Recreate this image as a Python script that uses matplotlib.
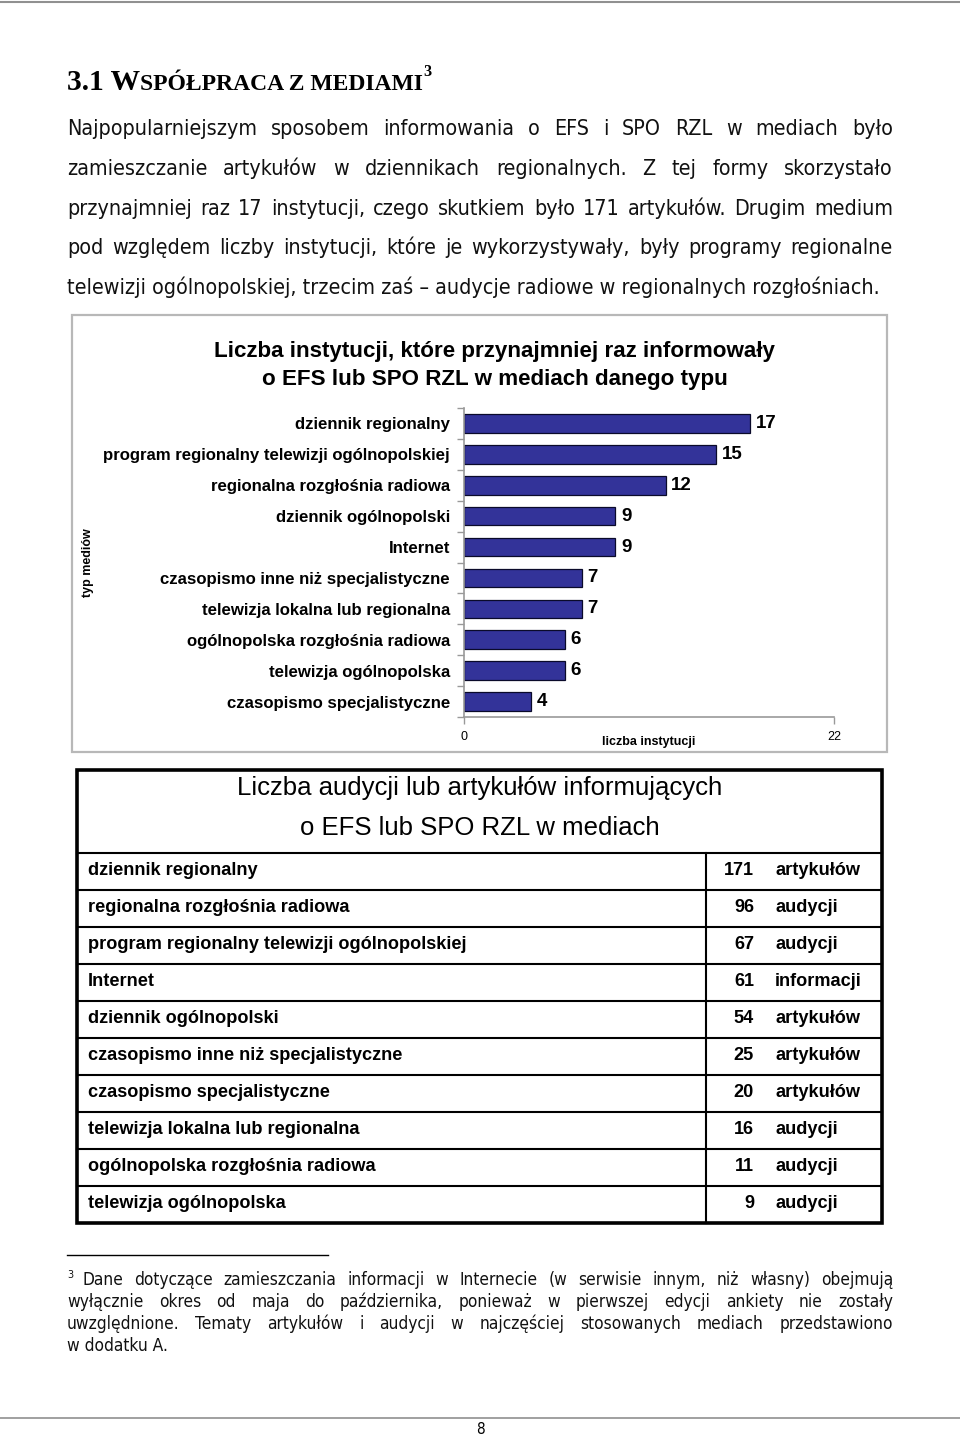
import matplotlib
matplotlib.use('Agg')
import matplotlib.pyplot as plt
from matplotlib import font_manager as fm
from matplotlib.patches import Rectangle
from matplotlib.lines import Line2D

# ---------------- data ----------------
categories = [
    'dziennik regionalny',
    'program regionalny telewizji ogólnopolskiej',
    'regionalna rozgłośnia radiowa',
    'dziennik ogólnopolski',
    'Internet',
    'czasopismo inne niż specjalistyczne',
    'telewizja lokalna lub regionalna',
    'ogólnopolska rozgłośnia radiowa',
    'telewizja ogólnopolska',
    'czasopismo specjalistyczne',
]
institutions = [17, 15, 12, 9, 9, 7, 7, 6, 6, 4]
x_ticks = [0, 22]

table_media = [
    'dziennik regionalny',
    'regionalna rozgłośnia radiowa',
    'program regionalny telewizji ogólnopolskiej',
    'Internet',
    'dziennik ogólnopolski',
    'czasopismo inne niż specjalistyczne',
    'czasopismo specjalistyczne',
    'telewizja lokalna lub regionalna',
    'ogólnopolska rozgłośnia radiowa',
    'telewizja ogólnopolska',
]
table_counts = [171, 96, 67, 61, 54, 25, 20, 16, 11, 9]
table_units = ['artykułów', 'audycji', 'audycji', 'informacji', 'artykułów',
               'artykułów', 'artykułów', 'audycji', 'audycji', 'audycji']

heading_big = '3.1 W'
heading_small = 'SPÓŁPRACA Z MEDIAMI'
paragraph = [
    'Najpopularniejszym sposobem informowania o EFS i SPO RZL w mediach było',
    'zamieszczanie artykułów w dziennikach regionalnych. Z tej formy skorzystało',
    'przynajmniej raz 17 instytucji, czego skutkiem było 171 artykułów. Drugim medium',
    'pod względem liczby instytucji, które je wykorzystywały, były programy regionalne',
    'telewizji ogólnopolskiej, trzecim zaś – audycje radiowe w regionalnych rozgłośniach.',
]
chart_title = ['Liczba instytucji, które przynajmniej raz informowały',
               'o EFS lub SPO RZL w mediach danego typu']
table_title = ['Liczba audycji lub artykułów informujących',
               'o EFS lub SPO RZL w mediach']
footnote = [
    'Dane dotyczące zamieszczania informacji w Internecie (w serwisie innym, niż własny) obejmują',
    'wyłącznie okres od maja do października, ponieważ w pierwszej edycji ankiety nie zostały',
    'uwzględnione. Tematy artykułów i audycji w najczęściej stosowanych mediach przedstawiono',
    'w dodatku A.',
]

# ---------------- setup ----------------
W, H = 960, 1436
fig = plt.figure(figsize=(W / 100, H / 100), dpi=100)
fig.patch.set_facecolor('white')
R = fig.canvas.get_renderer()


def X(p):
    return p / W


def Y(p):
    return 1 - p / H


def has_font(name):
    try:
        fm.findfont(fm.FontProperties(family=name), fallback_to_default=False)
        return True
    except Exception:
        return False


SANS = ['Liberation Sans', 'DejaVu Sans']
NARROW = ['Liberation Sans Narrow', 'Liberation Sans', 'DejaVu Sans'] if has_font('Liberation Sans Narrow') else SANS
SERIF = ['Liberation Serif', 'DejaVu Serif']
BODY = ['DejaVu Sans']
body_kw = {}
try:
    p = fm.findfont(fm.FontProperties(family='DejaVu Sans', stretch='condensed'))
    if 'Condensed' in p:
        body_kw = {'fontstretch': 'condensed'}
except Exception:
    pass


def tw(s, **kw):
    t = fig.text(0, 0, s, **kw)
    w = t.get_window_extent(renderer=R).width
    t.remove()
    return w


def fit(s, target, **kw):
    return 10 * target / tw(s, fontsize=10, **kw)


def justify_line(line, x0, x1, yb, last=False, **kw):
    if last:
        fig.text(X(x0), Y(yb), line, ha='left', va='baseline', **kw)
        return
    words = line.split(' ')
    ws = [tw(w, **kw) for w in words]
    sp = (x1 - x0 - sum(ws)) / (len(words) - 1)
    x = x0
    for w, wd in zip(words, ws):
        fig.text(X(x), Y(yb), w, ha='left', va='baseline', **kw)
        x += wd + sp


def fline(x0, y0, x1, y1, **kw):
    fig.add_artist(Line2D([X(x0), X(x1)], [Y(y0), Y(y1)], transform=fig.transFigure, **kw))


# page lines
fline(0, 2, 960, 2, color='#909090', lw=1.5)
fline(0, 1418, 960, 1418, color='#909090', lw=1.2)
fig.text(X(480), Y(1434), '8', ha='center', va='baseline', family=BODY, fontsize=11, **body_kw)

# ---------------- heading ----------------
hk = dict(family=SERIF, fontweight='bold')
w1 = tw(heading_big, fontsize=20, **hk)
w2 = tw(heading_small, fontsize=16, **hk)
w3 = tw('3', fontsize=11, **hk)
sc = (432 - 67) / (w1 + w2 + w3)
S = 20 * sc
xh = 67
fig.text(X(xh), Y(90), heading_big, ha='left', va='baseline', fontsize=S, **hk)
xh += tw(heading_big, fontsize=S, **hk)
fig.text(X(xh), Y(90), heading_small, ha='left', va='baseline', fontsize=0.8 * S, **hk)
xh += tw(heading_small, fontsize=0.8 * S, **hk)
fig.text(X(xh), Y(76), '3', ha='left', va='baseline', fontsize=0.55 * S, **hk)

# ---------------- paragraph ----------------
bk = dict(family=BODY, color='#111111', **body_kw)
bsize = fit(paragraph[-1], 880 - 67, **bk)
for i, line in enumerate(paragraph):
    justify_line(line, 67, 893, 135 + 39.8 * i, last=(i == len(paragraph) - 1),
                 fontsize=bsize, **bk)

# ---------------- chart ----------------
fig.add_artist(Rectangle((X(72), Y(752)), (887 - 72) / W, (752 - 315) / H, fill=False,
                         edgecolor='#b8b8b8', lw=1.6, transform=fig.transFigure))
tk = dict(family=NARROW, fontweight='bold')
tsize = fit(chart_title[0], 775 - 214, **tk)
fig.text(X(494.5), Y(357), chart_title[0], ha='center', va='baseline', fontsize=tsize, **tk)
fig.text(X(494.5), Y(385), chart_title[1], ha='center', va='baseline', fontsize=tsize, **tk)

lk = dict(family=SANS, fontweight='bold')
lsize = fit(categories[1], 450 - 101, **lk)

ax = fig.add_axes([X(464), Y(717), (834 - 464) / W, (717 - 408) / H])
ypos = list(range(len(categories)))
ax.barh(ypos, institutions, height=0.6, color='#333399', edgecolor='#0a0a2a', linewidth=0.9)
ax.set_ylim(len(categories) - 0.5, -0.5)
ax.set_xlim(x_ticks[0], x_ticks[-1])
ax.set_yticks(ypos)
ax.set_yticklabels(categories, fontsize=lsize, fontweight='bold', family=SANS)
ax.set_yticks([i - 0.5 for i in range(len(categories) + 1)], minor=True)
ax.tick_params(axis='y', which='major', length=0, pad=10)
ax.tick_params(axis='y', which='minor', length=5, direction='out', color='#999999', width=1)
ax.set_xticks(x_ticks)
ax.set_xticklabels([str(v) for v in x_ticks], fontsize=9, family=SANS)
ax.tick_params(axis='x', length=5, direction='out', color='#999999', width=1, pad=5)
for s in ['top', 'right']:
    ax.spines[s].set_visible(False)
for s in ['left', 'bottom']:
    ax.spines[s].set_color('#999999')
    ax.spines[s].set_linewidth(1.2)
for i, v in enumerate(institutions):
    ax.annotate(str(v), (v, i), xytext=(4, 0), textcoords='offset points',
                va='center', ha='left', fontsize=lsize * 1.12, fontweight='bold', family=SANS)
fig.text(X(649), Y(742), 'liczba instytucji', ha='center', va='center', fontsize=9,
         fontweight='bold', family=SANS)
fig.text(X(88), Y(563), 'typ mediów', ha='center', va='center', rotation=90, fontsize=9,
         fontweight='bold', family=SANS)

# ---------------- table ----------------
fig.add_artist(Rectangle((X(77), Y(1223)), (882 - 77) / W, (1223 - 770) / H, fill=False,
                         edgecolor='black', lw=2.6, transform=fig.transFigure))
ttk = dict(family=NARROW)
ttsize = fit(table_title[0], 725 - 236, **ttk)
fig.text(X(480), Y(795), table_title[0], ha='center', va='baseline', fontsize=ttsize, **ttk)
fig.text(X(480), Y(835), table_title[1], ha='center', va='baseline', fontsize=ttsize, **ttk)

row_top = 853
row_h = 37
rsize = fit(table_media[2], 466 - 88, **lk)
for i in range(len(table_media)):
    top = row_top + row_h * i
    fline(77, top, 882, top, color='black', lw=1.5)
    yb = top + 22
    fig.text(X(88), Y(yb), table_media[i], ha='left', va='baseline', fontsize=rsize, **lk)
    fig.text(X(754), Y(yb), str(table_counts[i]), ha='right', va='baseline', fontsize=rsize, **lk)
    fig.text(X(775), Y(yb), table_units[i], ha='left', va='baseline', fontsize=rsize, **lk)
fline(706, row_top, 706, 1223, color='black', lw=1.5)

# ---------------- footnote ----------------
fline(67, 1255, 328, 1255, color='black', lw=1.0)
fk = dict(family=BODY, color='#111111', **body_kw)
fsize = min(fit(footnote[0], 893 - 82 - 13 * 5, **fk), bsize * 0.95)
fig.text(X(67), Y(1278), '3', ha='left', va='baseline', fontsize=fsize * 0.62, **fk)
for i, line in enumerate(footnote):
    x0 = 82 if i == 0 else 67
    justify_line(line, x0, 893, 1285 + 22 * i, last=(i == len(footnote) - 1), fontsize=fsize, **fk)

fig.savefig('out.png', dpi=100, facecolor='white')
